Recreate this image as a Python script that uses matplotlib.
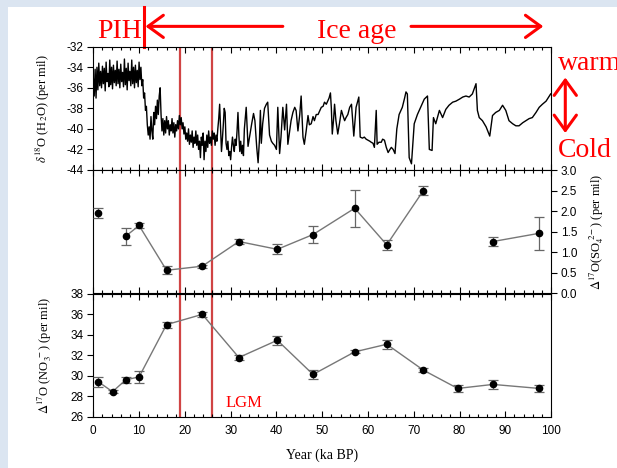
import numpy as np
import matplotlib.pyplot as plt
from matplotlib.patches import Rectangle

plt.rcParams['font.family'] = 'Liberation Sans'
plt.rcParams['mathtext.fontset'] = 'stix'
plt.rcParams['axes.unicode_minus'] = False

# ice core d18O (top panel)
ice_age = [0.0, 0.2, 0.4, 0.6, 0.8, 1.0, 1.2, 1.4, 1.6, 1.8, 2.0, 2.2, 2.4, 2.6, 2.8,
           3.0, 3.2, 3.4, 3.6, 3.8, 4.0, 4.2, 4.4, 4.6, 4.8, 5.0, 5.2, 5.4, 5.6, 5.8,
           6.0, 6.2, 6.4, 6.6, 6.8, 7.0, 7.2, 7.4, 7.6, 7.8, 8.0, 8.2, 8.4, 8.6, 8.8,
           9.0, 9.2, 9.4, 9.6, 9.8, 10.0, 10.2, 10.4, 10.6, 10.8, 11.0, 11.2, 11.4,
           11.6, 11.8, 12.0, 12.2, 12.4, 12.6, 12.8, 13.0, 13.2, 13.4, 13.6, 13.8,
           14.0, 14.2, 14.4, 14.6, 14.8, 15.0, 15.2, 15.4, 15.6, 15.8, 16.0, 16.2,
           16.4, 16.6, 16.8, 17.0, 17.2, 17.4, 17.6, 17.8, 18.0, 18.2, 18.4, 18.6,
           18.8, 19.0, 19.2, 19.4, 19.6, 19.8, 20.0, 20.2, 20.4, 20.6, 20.8, 21.0,
           21.2, 21.4, 21.6, 21.8, 22.0, 22.2, 22.4, 22.6, 22.8, 23.0, 23.2, 23.4,
           23.6, 23.8, 24.0, 24.2, 24.4, 24.6, 24.8, 25.0, 25.2, 25.4, 25.6, 25.8,
           26.0, 26.2, 26.4, 26.6, 26.8, 27.0, 27.2, 27.4, 27.6, 27.8, 28.0, 28.2,
           28.4, 28.6, 28.8, 29.0, 29.2, 29.4, 29.6, 29.8, 30.0, 30.2, 30.4, 30.6,
           30.8, 31.0, 31.2, 31.4, 31.6, 31.8, 32.0, 32.2, 32.4, 32.6, 32.8, 33.0,
           33.4, 33.8, 34.2, 34.6, 35.0, 35.3, 35.7, 36.0, 36.3, 36.5, 36.7, 37.0,
           37.4, 37.8, 38.1, 38.5, 38.9, 39.2, 39.6, 40.0, 40.3, 40.7, 41.0, 41.4,
           41.8, 42.2, 42.5, 42.9, 43.2, 43.6, 44.0, 44.3, 44.7, 45.1, 45.4, 45.8,
           46.1, 46.5, 46.9, 47.2, 47.6, 48.0, 48.3, 48.7, 49.1, 49.5, 49.8, 50.2,
           50.5, 50.9, 51.2, 51.5, 51.8, 52.0, 52.2, 52.5, 52.7, 53.0, 53.4, 53.8,
           54.2, 54.6, 54.9, 55.2, 55.6, 56.0, 56.4, 56.6, 56.9, 57.2, 57.4, 57.7,
           58.0, 58.3, 58.8, 59.2, 59.6, 60.0, 60.4, 60.7, 61.1, 61.4, 61.6, 61.8,
           62.0, 62.4, 62.9, 63.2, 63.6, 64.0, 64.4, 64.8, 65.1, 65.5, 65.9, 66.3,
           66.8, 67.5, 68.0, 68.3, 68.6, 69.0, 69.5, 70.1, 70.8, 71.5, 72.3, 73.0,
           73.4, 74.0, 74.3, 74.8, 75.6, 76.3, 77.0, 77.7, 78.5, 79.2, 80.0, 80.7,
           81.4, 82.1, 82.8, 83.6, 83.9, 84.3, 85.0, 85.8, 86.6, 87.2, 87.9, 88.7,
           89.4, 90.1, 90.8, 91.6, 92.3, 93.0, 93.8, 94.5, 95.2, 95.9, 96.7, 97.4,
           98.1, 98.9, 99.9]
ice_d18o = [-35.0, -36.8, -34.2, -37.0, -34.0, -36.2, -33.6, -35.8, -34.4, -36.0,
            -33.9, -35.6, -34.1, -36.3, -33.5, -35.4, -34.6, -35.9, -33.3, -35.7,
            -34.0, -36.1, -33.8, -35.5, -34.3, -35.8, -33.4, -35.6, -34.2, -36.0,
            -33.7, -35.4, -34.5, -35.9, -33.2, -35.7, -34.1, -36.2, -33.6, -35.3,
            -34.4, -35.8, -33.3, -35.6, -34.0, -36.0, -33.8, -35.5, -34.3, -35.9,
            -33.5, -35.2, -34.0, -35.8, -35.2, -37.0, -36.5, -38.2, -37.8, -39.6,
            -40.6, -39.8, -41.0, -38.8, -40.2, -41.0, -38.4, -39.6, -37.8, -39.0,
            -37.2, -38.6, -36.8, -36.0, -38.6, -40.2, -39.0, -40.6, -39.2, -40.4,
            -38.8, -40.0, -39.2, -40.6, -39.6, -40.2, -39.0, -40.4, -39.4, -40.8,
            -39.6, -40.2, -39.2, -40.0, -38.7, -39.6, -38.9, -40.0, -39.4, -40.5,
            -39.8, -41.0, -40.4, -41.2, -40.0, -41.5, -40.6, -41.3, -40.2, -41.8,
            -40.8, -41.4, -40.2, -41.6, -40.6, -42.0, -41.2, -42.8, -40.8, -41.6,
            -40.4, -43.0, -41.2, -42.2, -40.6, -41.8, -40.2, -41.4, -40.8, -41.6,
            -40.2, -41.0, -40.4, -41.6, -40.6, -41.2, -40.0, -39.0, -37.6, -39.8,
            -42.2, -41.0, -39.6, -38.0, -38.4, -41.4, -42.0, -41.2, -42.6, -42.2,
            -43.0, -41.8, -40.8, -41.6, -42.2, -41.0, -41.6, -40.2, -38.4, -40.6,
            -42.2, -41.2, -42.4, -41.6, -42.6, -40.0, -37.9, -41.7, -40.6, -39.5,
            -38.5, -39.2, -41.8, -43.3, -41.0, -38.2, -41.4, -39.5, -38.0, -37.6,
            -37.4, -40.6, -41.2, -41.4, -41.6, -42.0, -37.9, -42.4, -40.8, -37.9,
            -40.1, -37.6, -41.5, -40.2, -39.2, -38.4, -37.9, -38.2, -40.2, -38.6,
            -36.8, -40.8, -41.5, -40.2, -38.7, -39.6, -39.5, -38.8, -39.2, -38.6,
            -38.6, -38.2, -37.9, -37.8, -37.4, -37.6, -37.3, -37.0, -36.5, -38.0,
            -40.5, -39.0, -37.6, -39.2, -40.5, -39.4, -38.2, -38.8, -39.2, -38.9,
            -38.6, -37.9, -37.6, -38.8, -40.7, -39.0, -37.9, -37.4, -36.9, -40.8,
            -40.9, -40.8, -41.0, -41.1, -41.2, -41.3, -41.4, -41.8, -40.0, -38.2,
            -41.5, -41.3, -41.3, -41.0, -41.1, -41.8, -42.3, -42.0, -41.8, -42.0,
            -42.4, -40.0, -38.6, -37.9, -37.0, -36.4, -36.6, -42.8, -43.4, -39.5,
            -38.6, -37.9, -37.1, -36.8, -42.0, -42.1, -38.9, -39.5, -38.2, -38.9,
            -38.1, -37.7, -37.4, -37.3, -37.1, -36.9, -36.8, -36.9, -36.6, -35.6,
            -38.2, -38.9, -39.2, -39.8, -40.7, -38.7, -38.4, -38.2, -37.7, -38.2,
            -39.2, -39.5, -39.7, -39.7, -39.4, -39.2, -39.0, -38.9, -38.4, -37.9,
            -37.6, -37.3, -36.6]

# sulphate D17O (middle panel)
so4_age = [1.1, 7.1, 10.0, 16.0, 23.8, 31.8, 40.2, 48.0, 57.1, 64.1, 72.1, 87.3, 97.4]
so4_val = [1.95, 1.39, 1.65, 0.56, 0.66, 1.26, 1.07, 1.43, 2.07, 1.18, 2.50, 1.26, 1.46]
so4_err = [0.12, 0.21, 0.05, 0.10, 0.04, 0.07, 0.12, 0.21, 0.45, 0.12, 0.10, 0.10, 0.40]

# nitrate D17O (bottom panel)
no3_age = [1.1, 4.2, 7.1, 10.0, 16.0, 23.8, 31.8, 40.2, 48.0, 57.1, 64.1, 72.1, 79.6, 87.3, 97.4]
no3_val = [29.43, 28.46, 29.62, 29.9, 34.99, 35.99, 31.79, 33.47, 30.14, 32.34, 33.08,
           30.56, 28.78, 29.17, 28.78]
no3_err = [0.5, 0.15, 0.3, 0.6, 0.3, 0.25, 0.25, 0.45, 0.45, 0.15, 0.45, 0.2, 0.3, 0.45, 0.35]

lgm = [19, 26]
pih = 11.1

red = '#ff0000'
lgm_red = '#d04444'
gray = '#777777'
serif = 'Liberation Serif'

fig = plt.figure(figsize=(6.17, 4.68), dpi=100, facecolor='#dbe5f1')
fig.add_artist(Rectangle((8/617, 0), 1, 1 - 7/468, transform=fig.transFigure,
                         facecolor='white', edgecolor='none', zorder=-1))

left, width, h = 0.1512, 0.742, 0.2634
ax1 = fig.add_axes([left, 0.6368, width, h])
ax2 = fig.add_axes([left, 0.3733, width, h])
ax3 = fig.add_axes([left, 0.1090, width, h])

for ax in (ax1, ax2, ax3):
    ax.set_xlim(0, 100)
    ax.set_xticks(np.arange(0, 101, 10))
    ax.set_xticks(np.arange(0, 101, 2), minor=True)
    ax.tick_params(axis='x', which='both', direction='in', top=True, bottom=True,
                   labelbottom=False, labelsize=8.5, pad=6)
    ax.tick_params(axis='x', which='major', length=4.5, width=0.8)
    ax.tick_params(axis='x', which='minor', length=2.5, width=0.8)
    ax.tick_params(axis='y', direction='out', length=4, width=0.8, labelsize=8.5, pad=3)
    for s in ax.spines.values():
        s.set_linewidth(0.8)
    for x in lgm:
        ax.axvline(x, color=lgm_red, lw=1.6, zorder=1)

# top panel
ax1.plot(ice_age, ice_d18o, color='black', lw=1.0, zorder=2)
ax1.set_ylim(-44, -32)
ax1.set_yticks(np.arange(-44, -31, 2))
ax1.set_ylabel(r'$\delta^{18}$O (H$_2$O) (per mil)', family=serif, fontsize=9)
ax1.yaxis.set_label_coords(-0.09, 0.5)

# middle panel
ax2.errorbar(so4_age, so4_val, yerr=so4_err, fmt='o', color='black', ms=4.5,
             ecolor='#666666', elinewidth=0.9, capsize=3.5, capthick=0.9, zorder=3)
ax2.plot(so4_age[1:11], so4_val[1:11], color=gray, lw=1.0, zorder=2)
ax2.plot(so4_age[11:], so4_val[11:], color=gray, lw=1.0, zorder=2)
ax2.set_ylim(0, 3.0)
ax2.set_yticks(np.arange(0, 3.01, 0.5))
ax2.set_yticklabels(['%.1f' % v for v in np.arange(0, 3.01, 0.5)])
ax2.yaxis.tick_right()
ax2.yaxis.set_label_position('right')
ax2.set_ylabel(r'$\Delta^{17}$O(SO$_4^{\ 2-}$) (per mil)', family=serif, fontsize=9)
ax2.yaxis.set_label_coords(1.078, 0.5)

# bottom panel
ax3.plot(no3_age, no3_val, color=gray, lw=1.0, zorder=2)
ax3.errorbar(no3_age, no3_val, yerr=no3_err, fmt='o', color='black', ms=4.5,
             ecolor='#666666', elinewidth=0.9, capsize=3.5, capthick=0.9, zorder=3)
ax3.set_ylim(26, 38)
ax3.set_yticks(np.arange(26, 39, 2))
ax3.tick_params(axis='x', labelbottom=True)
ax3.set_ylabel(r'$\Delta^{17}$O (NO$_3^{\ -}$) (per mil)', family=serif, fontsize=9)
ax3.yaxis.set_label_coords(-0.085, 0.5)
ax3.set_xlabel('Year (ka BP)', family=serif, fontsize=10, labelpad=8)
ax3.text(28.8, 27.0, 'LGM', color=red, family=serif, fontsize=12, va='baseline')

# annotations above and to the right
tr = ax1.get_xaxis_transform()
ax1.plot([pih, pih], [1.0, 1.32], transform=tr, color=red, lw=2.2, clip_on=False)
ax1.text(pih - 0.4, 1.073, 'PIH', transform=tr, color=red, family=serif,
         fontsize=20, ha='right', va='baseline')
ax1.text(57.6, 1.073, 'Ice age', transform=tr, color=red, family=serif,
         fontsize=20, ha='center', va='baseline')
arrow = dict(arrowstyle='->,head_length=0.55,head_width=0.4', color=red, lw=2.2,
             shrinkA=0, shrinkB=0, mutation_scale=20)
ax1.annotate('', xy=(pih + 0.3, 1.165), xytext=(41.4, 1.165), xycoords=tr,
             textcoords=tr, arrowprops=arrow, annotation_clip=False)
ax1.annotate('', xy=(98.3, 1.165), xytext=(69.4, 1.165), xycoords=tr,
             textcoords=tr, arrowprops=arrow, annotation_clip=False)
ax1.annotate('', xy=(103.1, 0.75), xytext=(103.1, 0.30), xycoords=tr,
             textcoords=tr, annotation_clip=False,
             arrowprops=dict(arrowstyle='<->,head_length=0.55,head_width=0.4',
                             color=red, lw=2.2, shrinkA=0, shrinkB=0, mutation_scale=20))
ax1.text(101.4, 0.811, 'warm', transform=tr, color=red, family=serif, fontsize=20,
         va='baseline', clip_on=False)
ax1.text(101.4, 0.105, 'Cold', transform=tr, color=red, family=serif, fontsize=20,
         va='baseline', clip_on=False)

plt.savefig('out.png', dpi=100, facecolor=fig.get_facecolor())
